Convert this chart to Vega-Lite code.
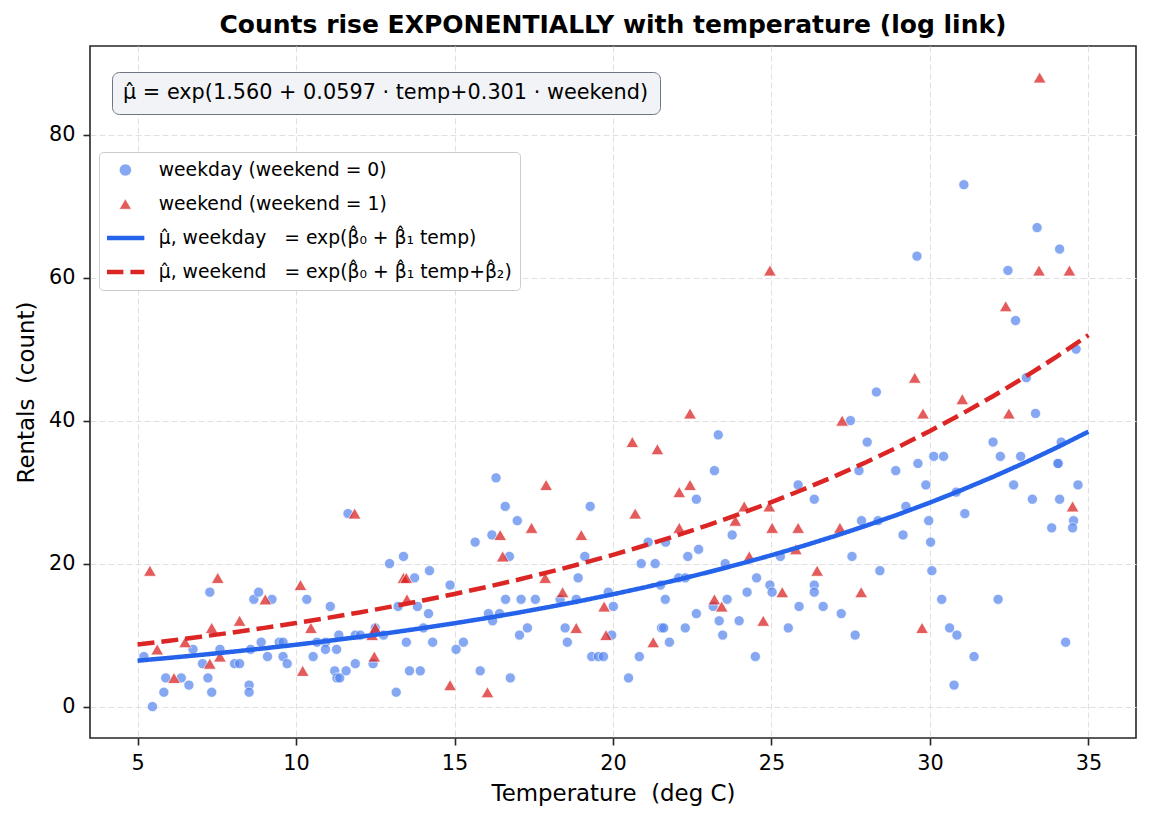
{
  "$schema": "https://vega.github.io/schema/vega-lite/v6.json",
  "width": 1046,
  "height": 692,
  "autosize": {"type": "none"},
  "padding": {"left": 90, "top": 46, "right": 15, "bottom": 85},
  "background": "white",
  "title": {
    "text": "Counts rise EXPONENTIALLY with temperature (log link)",
    "font": "DejaVu Sans",
    "fontSize": 25,
    "fontWeight": "bold",
    "color": "black",
    "anchor": "middle",
    "offset": 8
  },
  "config": {
    "font": "DejaVu Sans",
    "view": {"stroke": "#262626", "strokeWidth": 1.6},
    "axis": {
      "domain": false,
      "grid": true,
      "gridColor": "#e0e0e0",
      "gridDash": [6, 3],
      "gridWidth": 1,
      "tickColor": "#262626",
      "tickWidth": 1.6,
      "tickSize": 7,
      "labelFont": "DejaVu Sans",
      "labelFontSize": 20.8,
      "labelColor": "black",
      "labelPadding": 8,
      "titleFont": "DejaVu Sans",
      "titleFontSize": 22.9,
      "titleFontWeight": "normal",
      "titleColor": "black",
      "titlePadding": 10
    }
  },
  "datasets": {
    "pts": [
      {"temp": 5.2, "count": 7, "group": "weekday"},
      {"temp": 5.47, "count": 0, "group": "weekday"},
      {"temp": 5.83, "count": 2, "group": "weekday"},
      {"temp": 5.89, "count": 4, "group": "weekday"},
      {"temp": 6.38, "count": 4, "group": "weekday"},
      {"temp": 6.62, "count": 3, "group": "weekday"},
      {"temp": 6.75, "count": 8, "group": "weekday"},
      {"temp": 7.05, "count": 6, "group": "weekday"},
      {"temp": 7.22, "count": 4, "group": "weekday"},
      {"temp": 7.28, "count": 16, "group": "weekday"},
      {"temp": 7.34, "count": 2, "group": "weekday"},
      {"temp": 7.6, "count": 8, "group": "weekday"},
      {"temp": 8.06, "count": 6, "group": "weekday"},
      {"temp": 8.22, "count": 6, "group": "weekday"},
      {"temp": 8.52, "count": 3, "group": "weekday"},
      {"temp": 8.52, "count": 2, "group": "weekday"},
      {"temp": 8.57, "count": 8, "group": "weekday"},
      {"temp": 8.67, "count": 15, "group": "weekday"},
      {"temp": 8.82, "count": 16, "group": "weekday"},
      {"temp": 8.9, "count": 9, "group": "weekday"},
      {"temp": 9.1, "count": 7, "group": "weekday"},
      {"temp": 9.24, "count": 15, "group": "weekday"},
      {"temp": 9.47, "count": 9, "group": "weekday"},
      {"temp": 9.59, "count": 9, "group": "weekday"},
      {"temp": 9.59, "count": 7, "group": "weekday"},
      {"temp": 9.72, "count": 6, "group": "weekday"},
      {"temp": 10.34, "count": 15, "group": "weekday"},
      {"temp": 10.54, "count": 7, "group": "weekday"},
      {"temp": 10.66, "count": 9, "group": "weekday"},
      {"temp": 10.93, "count": 9, "group": "weekday"},
      {"temp": 10.93, "count": 8, "group": "weekday"},
      {"temp": 11.08, "count": 14, "group": "weekday"},
      {"temp": 11.22, "count": 5, "group": "weekday"},
      {"temp": 11.29, "count": 4, "group": "weekday"},
      {"temp": 11.38, "count": 4, "group": "weekday"},
      {"temp": 11.35, "count": 10, "group": "weekday"},
      {"temp": 11.28, "count": 8, "group": "weekday"},
      {"temp": 11.58, "count": 5, "group": "weekday"},
      {"temp": 11.64, "count": 27, "group": "weekday"},
      {"temp": 11.87, "count": 6, "group": "weekday"},
      {"temp": 11.87, "count": 10, "group": "weekday"},
      {"temp": 12.03, "count": 10, "group": "weekday"},
      {"temp": 12.43, "count": 6, "group": "weekday"},
      {"temp": 12.5, "count": 11, "group": "weekday"},
      {"temp": 12.76, "count": 10, "group": "weekday"},
      {"temp": 12.95, "count": 20, "group": "weekday"},
      {"temp": 13.16, "count": 2, "group": "weekday"},
      {"temp": 13.22, "count": 14, "group": "weekday"},
      {"temp": 13.39, "count": 21, "group": "weekday"},
      {"temp": 13.48, "count": 9, "group": "weekday"},
      {"temp": 13.58, "count": 5, "group": "weekday"},
      {"temp": 13.74, "count": 18, "group": "weekday"},
      {"temp": 13.83, "count": 14, "group": "weekday"},
      {"temp": 13.92, "count": 5, "group": "weekday"},
      {"temp": 14.02, "count": 11, "group": "weekday"},
      {"temp": 14.18, "count": 13, "group": "weekday"},
      {"temp": 14.21, "count": 19, "group": "weekday"},
      {"temp": 14.31, "count": 9, "group": "weekday"},
      {"temp": 14.86, "count": 17, "group": "weekday"},
      {"temp": 15.05, "count": 8, "group": "weekday"},
      {"temp": 15.28, "count": 9, "group": "weekday"},
      {"temp": 15.65, "count": 23, "group": "weekday"},
      {"temp": 15.81, "count": 5, "group": "weekday"},
      {"temp": 16.07, "count": 13, "group": "weekday"},
      {"temp": 16.2, "count": 12, "group": "weekday"},
      {"temp": 16.18, "count": 24, "group": "weekday"},
      {"temp": 16.31, "count": 32, "group": "weekday"},
      {"temp": 16.42, "count": 13, "group": "weekday"},
      {"temp": 16.73, "count": 21, "group": "weekday"},
      {"temp": 16.6, "count": 28, "group": "weekday"},
      {"temp": 16.61, "count": 15, "group": "weekday"},
      {"temp": 16.76, "count": 4, "group": "weekday"},
      {"temp": 16.98, "count": 26, "group": "weekday"},
      {"temp": 17.05, "count": 10, "group": "weekday"},
      {"temp": 17.1, "count": 15, "group": "weekday"},
      {"temp": 17.3, "count": 11, "group": "weekday"},
      {"temp": 17.55, "count": 15, "group": "weekday"},
      {"temp": 18.33, "count": 15, "group": "weekday"},
      {"temp": 18.49, "count": 11, "group": "weekday"},
      {"temp": 18.56, "count": 9, "group": "weekday"},
      {"temp": 18.84, "count": 15, "group": "weekday"},
      {"temp": 18.9, "count": 18, "group": "weekday"},
      {"temp": 19.11, "count": 21, "group": "weekday"},
      {"temp": 19.28, "count": 28, "group": "weekday"},
      {"temp": 19.33, "count": 7, "group": "weekday"},
      {"temp": 19.54, "count": 7, "group": "weekday"},
      {"temp": 19.7, "count": 7, "group": "weekday"},
      {"temp": 19.96, "count": 10, "group": "weekday"},
      {"temp": 19.85, "count": 16, "group": "weekday"},
      {"temp": 20.01, "count": 14, "group": "weekday"},
      {"temp": 20.49, "count": 4, "group": "weekday"},
      {"temp": 20.83, "count": 7, "group": "weekday"},
      {"temp": 20.89, "count": 20, "group": "weekday"},
      {"temp": 21.11, "count": 23, "group": "weekday"},
      {"temp": 21.33, "count": 20, "group": "weekday"},
      {"temp": 21.5, "count": 17, "group": "weekday"},
      {"temp": 21.53, "count": 11, "group": "weekday"},
      {"temp": 21.6, "count": 11, "group": "weekday"},
      {"temp": 21.65, "count": 15, "group": "weekday"},
      {"temp": 21.66, "count": 23, "group": "weekday"},
      {"temp": 21.78, "count": 9, "group": "weekday"},
      {"temp": 22.07, "count": 18, "group": "weekday"},
      {"temp": 22.28, "count": 18, "group": "weekday"},
      {"temp": 22.28, "count": 11, "group": "weekday"},
      {"temp": 22.36, "count": 21, "group": "weekday"},
      {"temp": 22.63, "count": 29, "group": "weekday"},
      {"temp": 22.63, "count": 13, "group": "weekday"},
      {"temp": 22.7, "count": 22, "group": "weekday"},
      {"temp": 23.2, "count": 33, "group": "weekday"},
      {"temp": 23.16, "count": 14, "group": "weekday"},
      {"temp": 23.32, "count": 38, "group": "weekday"},
      {"temp": 23.35, "count": 12, "group": "weekday"},
      {"temp": 23.46, "count": 10, "group": "weekday"},
      {"temp": 23.54, "count": 20, "group": "weekday"},
      {"temp": 23.6, "count": 15, "group": "weekday"},
      {"temp": 23.76, "count": 24, "group": "weekday"},
      {"temp": 23.98, "count": 12, "group": "weekday"},
      {"temp": 24.23, "count": 16, "group": "weekday"},
      {"temp": 24.49, "count": 7, "group": "weekday"},
      {"temp": 24.53, "count": 18, "group": "weekday"},
      {"temp": 24.95, "count": 17, "group": "weekday"},
      {"temp": 25.02, "count": 16, "group": "weekday"},
      {"temp": 25.28, "count": 21, "group": "weekday"},
      {"temp": 25.53, "count": 11, "group": "weekday"},
      {"temp": 25.84, "count": 31, "group": "weekday"},
      {"temp": 25.87, "count": 14, "group": "weekday"},
      {"temp": 26.35, "count": 29, "group": "weekday"},
      {"temp": 26.35, "count": 17, "group": "weekday"},
      {"temp": 26.35, "count": 16, "group": "weekday"},
      {"temp": 26.63, "count": 14, "group": "weekday"},
      {"temp": 27.2, "count": 13, "group": "weekday"},
      {"temp": 27.49, "count": 40, "group": "weekday"},
      {"temp": 27.54, "count": 21, "group": "weekday"},
      {"temp": 27.64, "count": 10, "group": "weekday"},
      {"temp": 27.76, "count": 33, "group": "weekday"},
      {"temp": 27.84, "count": 26, "group": "weekday"},
      {"temp": 28.02, "count": 37, "group": "weekday"},
      {"temp": 28.31, "count": 44, "group": "weekday"},
      {"temp": 28.36, "count": 26, "group": "weekday"},
      {"temp": 28.42, "count": 19, "group": "weekday"},
      {"temp": 28.92, "count": 33, "group": "weekday"},
      {"temp": 29.15, "count": 24, "group": "weekday"},
      {"temp": 29.24, "count": 28, "group": "weekday"},
      {"temp": 29.62, "count": 34, "group": "weekday"},
      {"temp": 29.87, "count": 31, "group": "weekday"},
      {"temp": 29.96, "count": 26, "group": "weekday"},
      {"temp": 30.02, "count": 23, "group": "weekday"},
      {"temp": 30.06, "count": 19, "group": "weekday"},
      {"temp": 30.12, "count": 35, "group": "weekday"},
      {"temp": 30.43, "count": 35, "group": "weekday"},
      {"temp": 30.37, "count": 15, "group": "weekday"},
      {"temp": 30.62, "count": 11, "group": "weekday"},
      {"temp": 30.76, "count": 3, "group": "weekday"},
      {"temp": 30.83, "count": 30, "group": "weekday"},
      {"temp": 30.85, "count": 10, "group": "weekday"},
      {"temp": 31.1, "count": 27, "group": "weekday"},
      {"temp": 31.39, "count": 7, "group": "weekday"},
      {"temp": 31.99, "count": 37, "group": "weekday"},
      {"temp": 32.15, "count": 15, "group": "weekday"},
      {"temp": 32.22, "count": 35, "group": "weekday"},
      {"temp": 32.64, "count": 31, "group": "weekday"},
      {"temp": 32.86, "count": 35, "group": "weekday"},
      {"temp": 33.04, "count": 46, "group": "weekday"},
      {"temp": 33.23, "count": 29, "group": "weekday"},
      {"temp": 33.33, "count": 41, "group": "weekday"},
      {"temp": 33.84, "count": 25, "group": "weekday"},
      {"temp": 34.04, "count": 34, "group": "weekday"},
      {"temp": 34.04, "count": 34, "group": "weekday"},
      {"temp": 34.09, "count": 29, "group": "weekday"},
      {"temp": 34.14, "count": 37, "group": "weekday"},
      {"temp": 34.28, "count": 9, "group": "weekday"},
      {"temp": 34.53, "count": 26, "group": "weekday"},
      {"temp": 34.5, "count": 25, "group": "weekday"},
      {"temp": 34.67, "count": 31, "group": "weekday"},
      {"temp": 31.07, "count": 73, "group": "weekday"},
      {"temp": 33.38, "count": 67, "group": "weekday"},
      {"temp": 34.09, "count": 64, "group": "weekday"},
      {"temp": 32.46, "count": 61, "group": "weekday"},
      {"temp": 29.59, "count": 63, "group": "weekday"},
      {"temp": 32.7, "count": 54, "group": "weekday"},
      {"temp": 34.61, "count": 50, "group": "weekday"},
      {"temp": 5.39, "count": 19, "group": "weekend"},
      {"temp": 5.62, "count": 8, "group": "weekend"},
      {"temp": 6.15, "count": 4, "group": "weekend"},
      {"temp": 6.5, "count": 9, "group": "weekend"},
      {"temp": 7.28, "count": 6, "group": "weekend"},
      {"temp": 7.34, "count": 11, "group": "weekend"},
      {"temp": 7.53, "count": 18, "group": "weekend"},
      {"temp": 7.6, "count": 7, "group": "weekend"},
      {"temp": 8.22, "count": 12, "group": "weekend"},
      {"temp": 9.03, "count": 15, "group": "weekend"},
      {"temp": 10.14, "count": 17, "group": "weekend"},
      {"temp": 10.21, "count": 5, "group": "weekend"},
      {"temp": 10.47, "count": 11, "group": "weekend"},
      {"temp": 11.85, "count": 27, "group": "weekend"},
      {"temp": 12.4, "count": 10, "group": "weekend"},
      {"temp": 12.5, "count": 11, "group": "weekend"},
      {"temp": 12.47, "count": 7, "group": "weekend"},
      {"temp": 13.39, "count": 18, "group": "weekend"},
      {"temp": 13.48, "count": 18, "group": "weekend"},
      {"temp": 13.5, "count": 15, "group": "weekend"},
      {"temp": 14.86, "count": 3, "group": "weekend"},
      {"temp": 16.04, "count": 2, "group": "weekend"},
      {"temp": 16.44, "count": 24, "group": "weekend"},
      {"temp": 16.52, "count": 21, "group": "weekend"},
      {"temp": 17.43, "count": 25, "group": "weekend"},
      {"temp": 17.89, "count": 31, "group": "weekend"},
      {"temp": 17.86, "count": 18, "group": "weekend"},
      {"temp": 18.41, "count": 16, "group": "weekend"},
      {"temp": 18.84, "count": 11, "group": "weekend"},
      {"temp": 19.0, "count": 24, "group": "weekend"},
      {"temp": 19.72, "count": 14, "group": "weekend"},
      {"temp": 19.78, "count": 10, "group": "weekend"},
      {"temp": 20.61, "count": 37, "group": "weekend"},
      {"temp": 20.7, "count": 27, "group": "weekend"},
      {"temp": 21.27, "count": 9, "group": "weekend"},
      {"temp": 21.4, "count": 36, "group": "weekend"},
      {"temp": 22.09, "count": 25, "group": "weekend"},
      {"temp": 22.09, "count": 30, "group": "weekend"},
      {"temp": 22.43, "count": 31, "group": "weekend"},
      {"temp": 22.43, "count": 41, "group": "weekend"},
      {"temp": 23.2, "count": 15, "group": "weekend"},
      {"temp": 23.43, "count": 14, "group": "weekend"},
      {"temp": 23.86, "count": 26, "group": "weekend"},
      {"temp": 24.14, "count": 28, "group": "weekend"},
      {"temp": 24.3, "count": 21, "group": "weekend"},
      {"temp": 24.74, "count": 12, "group": "weekend"},
      {"temp": 24.93, "count": 28, "group": "weekend"},
      {"temp": 25.02, "count": 25, "group": "weekend"},
      {"temp": 25.34, "count": 16, "group": "weekend"},
      {"temp": 25.77, "count": 22, "group": "weekend"},
      {"temp": 25.84, "count": 25, "group": "weekend"},
      {"temp": 26.44, "count": 19, "group": "weekend"},
      {"temp": 27.16, "count": 25, "group": "weekend"},
      {"temp": 27.23, "count": 40, "group": "weekend"},
      {"temp": 27.83, "count": 16, "group": "weekend"},
      {"temp": 29.52, "count": 46, "group": "weekend"},
      {"temp": 29.78, "count": 41, "group": "weekend"},
      {"temp": 29.75, "count": 11, "group": "weekend"},
      {"temp": 31.02, "count": 43, "group": "weekend"},
      {"temp": 32.49, "count": 41, "group": "weekend"},
      {"temp": 34.5, "count": 28, "group": "weekend"},
      {"temp": 33.46, "count": 88, "group": "weekend"},
      {"temp": 33.44, "count": 61, "group": "weekend"},
      {"temp": 34.4, "count": 61, "group": "weekend"},
      {"temp": 32.39, "count": 56, "group": "weekend"},
      {"temp": 24.95, "count": 61, "group": "weekend"}
    ],
    "fit": [
      {"temp": 5, "mu": 6.414, "group": "fit_weekday"},
      {"temp": 6, "mu": 6.809, "group": "fit_weekday"},
      {"temp": 7, "mu": 7.228, "group": "fit_weekday"},
      {"temp": 8, "mu": 7.672, "group": "fit_weekday"},
      {"temp": 9, "mu": 8.144, "group": "fit_weekday"},
      {"temp": 10, "mu": 8.645, "group": "fit_weekday"},
      {"temp": 11, "mu": 9.177, "group": "fit_weekday"},
      {"temp": 12, "mu": 9.742, "group": "fit_weekday"},
      {"temp": 13, "mu": 10.341, "group": "fit_weekday"},
      {"temp": 14, "mu": 10.977, "group": "fit_weekday"},
      {"temp": 15, "mu": 11.652, "group": "fit_weekday"},
      {"temp": 16, "mu": 12.369, "group": "fit_weekday"},
      {"temp": 17, "mu": 13.13, "group": "fit_weekday"},
      {"temp": 18, "mu": 13.938, "group": "fit_weekday"},
      {"temp": 19, "mu": 14.795, "group": "fit_weekday"},
      {"temp": 20, "mu": 15.705, "group": "fit_weekday"},
      {"temp": 21, "mu": 16.671, "group": "fit_weekday"},
      {"temp": 22, "mu": 17.697, "group": "fit_weekday"},
      {"temp": 23, "mu": 18.786, "group": "fit_weekday"},
      {"temp": 24, "mu": 19.941, "group": "fit_weekday"},
      {"temp": 25, "mu": 21.168, "group": "fit_weekday"},
      {"temp": 26, "mu": 22.47, "group": "fit_weekday"},
      {"temp": 27, "mu": 23.853, "group": "fit_weekday"},
      {"temp": 28, "mu": 25.32, "group": "fit_weekday"},
      {"temp": 29, "mu": 26.878, "group": "fit_weekday"},
      {"temp": 30, "mu": 28.531, "group": "fit_weekday"},
      {"temp": 31, "mu": 30.286, "group": "fit_weekday"},
      {"temp": 32, "mu": 32.149, "group": "fit_weekday"},
      {"temp": 33, "mu": 34.127, "group": "fit_weekday"},
      {"temp": 34, "mu": 36.227, "group": "fit_weekday"},
      {"temp": 35, "mu": 38.455, "group": "fit_weekday"},
      {"temp": 5, "mu": 8.667, "group": "fit_weekend"},
      {"temp": 6, "mu": 9.2, "group": "fit_weekend"},
      {"temp": 7, "mu": 9.766, "group": "fit_weekend"},
      {"temp": 8, "mu": 10.367, "group": "fit_weekend"},
      {"temp": 9, "mu": 11.005, "group": "fit_weekend"},
      {"temp": 10, "mu": 11.682, "group": "fit_weekend"},
      {"temp": 11, "mu": 12.4, "group": "fit_weekend"},
      {"temp": 12, "mu": 13.163, "group": "fit_weekend"},
      {"temp": 13, "mu": 13.973, "group": "fit_weekend"},
      {"temp": 14, "mu": 14.832, "group": "fit_weekend"},
      {"temp": 15, "mu": 15.745, "group": "fit_weekend"},
      {"temp": 16, "mu": 16.713, "group": "fit_weekend"},
      {"temp": 17, "mu": 17.741, "group": "fit_weekend"},
      {"temp": 18, "mu": 18.833, "group": "fit_weekend"},
      {"temp": 19, "mu": 19.991, "group": "fit_weekend"},
      {"temp": 20, "mu": 21.221, "group": "fit_weekend"},
      {"temp": 21, "mu": 22.526, "group": "fit_weekend"},
      {"temp": 22, "mu": 23.913, "group": "fit_weekend"},
      {"temp": 23, "mu": 25.384, "group": "fit_weekend"},
      {"temp": 24, "mu": 26.945, "group": "fit_weekend"},
      {"temp": 25, "mu": 28.603, "group": "fit_weekend"},
      {"temp": 26, "mu": 30.362, "group": "fit_weekend"},
      {"temp": 27, "mu": 32.23, "group": "fit_weekend"},
      {"temp": 28, "mu": 34.213, "group": "fit_weekend"},
      {"temp": 29, "mu": 36.317, "group": "fit_weekend"},
      {"temp": 30, "mu": 38.552, "group": "fit_weekend"},
      {"temp": 31, "mu": 40.923, "group": "fit_weekend"},
      {"temp": 32, "mu": 43.441, "group": "fit_weekend"},
      {"temp": 33, "mu": 46.113, "group": "fit_weekend"},
      {"temp": 34, "mu": 48.95, "group": "fit_weekend"},
      {"temp": 35, "mu": 51.961, "group": "fit_weekend"}
    ]
  },
  "layer": [
    {
      "data": {"name": "pts"},
      "transform": [{"filter": "datum.group === 'weekday'"}],
      "mark": {"type": "point", "filled": true, "size": 105, "opacity": 0.7, "stroke": "white", "strokeWidth": 0.8},
      "encoding": {
        "x": {
          "field": "temp", "type": "quantitative",
          "scale": {"domain": [3.5, 36.5], "nice": false, "zero": false},
          "axis": {"title": "Temperature\u00a0\u00a0(deg C)", "values": [5, 10, 15, 20, 25, 30, 35]}
        },
        "y": {
          "field": "count", "type": "quantitative",
          "scale": {"domain": [-4.4, 92.4], "nice": false, "zero": false},
          "axis": {"title": "Rentals\u00a0\u00a0(count)", "values": [0, 20, 40, 60, 80]}
        },
        "color": {
          "field": "group", "type": "nominal",
          "scale": {
            "domain": ["fit_weekday", "fit_weekend", "weekday", "weekend"],
            "range": ["#2563eb", "#dc2626", "#5484ef", "#da1616"]
          },
          "legend": null
        },
        "shape": {
          "field": "group", "type": "nominal",
          "scale": {"domain": ["weekday", "weekend"], "range": ["circle", "triangle-up"]},
          "legend": {
            "title": "μ̂ = exp(1.560 + 0.0597 · temp+0.301 · weekend)",
            "values": [],
            "orient": "none",
            "legendX": 22,
            "legendY": 26,
            "padding": 11,
            "fillColor": "#f1f3f6",
            "strokeColor": "#6e7683",
            "cornerRadius": 7,
            "titleFont": "DejaVu Sans",
            "titleFontSize": 20.8,
            "titleFontWeight": "normal",
            "titleColor": "black",
            "titleLimit": 900,
            "titlePadding": 0
          }
        }
      }
    },
    {
      "data": {"name": "pts"},
      "transform": [{"filter": "datum.group === 'weekend'"}],
      "mark": {"type": "point", "filled": true, "size": 165, "opacity": 0.7, "stroke": "white", "strokeWidth": 0.8},
      "encoding": {
        "x": {"field": "temp", "type": "quantitative"},
        "y": {"field": "count", "type": "quantitative"},
        "color": {"field": "group", "type": "nominal", "legend": null},
        "shape": {"field": "group", "type": "nominal"}
      }
    },
    {
      "data": {"name": "fit"},
      "mark": {"type": "line", "strokeWidth": 4.5, "strokeCap": "butt"},
      "encoding": {
        "x": {"field": "temp", "type": "quantitative"},
        "y": {"field": "mu", "type": "quantitative"},
        "color": {"field": "group", "type": "nominal", "legend": null},
        "strokeDash": {
          "field": "group", "type": "nominal",
          "scale": {
            "domain": ["weekday", "weekend", "fit_weekday", "fit_weekend"],
            "range": [[1, 0], [1, 0], [1, 0], [17, 7]]
          },
          "legend": {
            "title": null,
            "orient": "none",
            "legendX": 9,
            "legendY": 106,
            "padding": 8,
            "fillColor": "white",
            "strokeColor": "#cccccc",
            "cornerRadius": 4,
            "labelFont": "DejaVu Sans",
            "labelFontSize": 18.75,
            "labelColor": "black",
            "labelLimit": 600,
            "labelOffset": 24,
            "symbolOffset": 9,
            "symbolSize": 150,
            "clipHeight": 20,
            "rowPadding": 14,
            "symbolType": {"expr": "datum.value === 'weekday' ? 'circle' : datum.value === 'weekend' ? 'triangle-up' : 'M-3.1,0H3.1'"},
            "symbolFillColor": {"expr": "datum.value === 'weekday' ? '#5484ef' : datum.value === 'weekend' ? '#da1616' : 'transparent'"},
            "symbolStrokeColor": {"expr": "datum.value === 'fit_weekday' ? '#2563eb' : datum.value === 'fit_weekend' ? '#dc2626' : 'white'"},
            "symbolStrokeWidth": {"expr": "datum.value === 'fit_weekday' || datum.value === 'fit_weekend' ? 4.5 : 0.8"},
            "symbolOpacity": {"expr": "datum.value === 'weekday' || datum.value === 'weekend' ? 0.7 : 1"},
            "labelExpr": "datum.value === 'weekday' ? 'weekday (weekend = 0)' : datum.value === 'weekend' ? 'weekend (weekend = 1)' : datum.value === 'fit_weekday' ? 'μ̂, weekday\u00a0\u00a0\u00a0= exp(β̂₀ + β̂₁ temp)' : 'μ̂, weekend\u00a0\u00a0\u00a0= exp(β̂₀ + β̂₁ temp+β̂₂)'"
          }
        }
      }
    }
  ]
}
